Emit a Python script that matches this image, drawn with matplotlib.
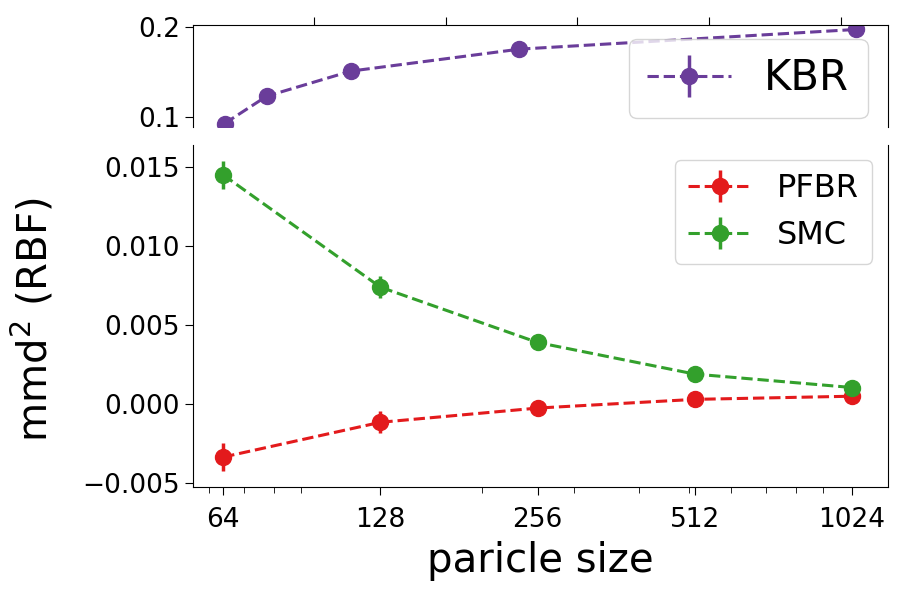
import matplotlib
matplotlib.use("Agg")
import matplotlib.pyplot as plt
from matplotlib.ticker import NullFormatter, ScalarFormatter

particles = [64, 128, 256, 512, 1024]

kbr_mean = [0.0925, 0.123, 0.151, 0.1755, 0.1975]
kbr_err = [0.002, 0.002, 0.0015, 0.0015, 0.0015]

pfbr_mean = [-0.00335, -0.00115, -0.00025, 0.0003, 0.0005]
pfbr_err = [0.0009, 0.0007, 0.0002, 0.00015, 0.0001]

smc_mean = [0.0145, 0.0074, 0.0039, 0.0019, 0.00105]
smc_err = [0.0009, 0.0007, 0.0002, 0.00015, 0.0001]

c_kbr = "#6a3d9a"
c_pfbr = "#e31a1c"
c_smc = "#33a02c"

style = dict(fmt="o--", markersize=11.5, linewidth=2.2, elinewidth=2.5)

fig = plt.figure(figsize=(9.12, 5.94), dpi=100)
ax_top = fig.add_axes([0.2116, 0.786, 0.762, 0.172])
ax = fig.add_axes([0.2116, 0.180, 0.762, 0.576])

# --- top panel: KBR, linear x ---
ax_top.errorbar(particles, kbr_mean, yerr=kbr_err, color=c_kbr, label="KBR", **style)
ax_top.set_xlim(16, 1072)
ax_top.set_ylim(0.0885, 0.2025)
ax_top.set_yticks([0.1, 0.2])
ax_top.set_xticks([200, 400, 600, 800, 1000])
ax_top.xaxis.tick_top()
ax_top.tick_params(axis="x", labeltop=False, length=6)
ax_top.tick_params(axis="y", labelsize=19, length=6)
ax_top.spines["bottom"].set_visible(False)
ax_top.legend(loc="lower right", fontsize=30, handlelength=2, borderpad=0.45,
              borderaxespad=0, bbox_to_anchor=(0.971, 0.088))

# --- bottom panel: PFBR and SMC, log x ---
ax.errorbar(particles, pfbr_mean, yerr=pfbr_err, color=c_pfbr, label="PFBR", **style)
ax.errorbar(particles, smc_mean, yerr=smc_err, color=c_smc, label="SMC", **style)
ax.set_xscale("log")
ax.set_xticks(particles)
ax.xaxis.set_major_formatter(ScalarFormatter())
ax.xaxis.set_minor_formatter(NullFormatter())
ax.set_xlim(56, 1200)
ax.set_ylim(-0.00525, 0.0164)
ax.set_yticks([-0.005, 0.0, 0.005, 0.010, 0.015])
ax.yaxis.set_major_formatter(plt.FuncFormatter(lambda v, p: f"{v:.3f}".replace("-", "\u2212")))
ax.spines["top"].set_visible(False)
ax.tick_params(axis="both", which="major", labelsize=19, length=6)
ax.tick_params(axis="x", which="major", pad=8)
ax.tick_params(axis="x", which="minor", length=4)
ax.set_xlabel("paricle size", fontsize=29, labelpad=6)
ax.set_ylabel("mmd$^2$ (RBF)", fontsize=29)
ax.yaxis.set_label_coords(-0.196, 0.49)
ax.legend(loc="upper right", fontsize=23, handlelength=2, borderpad=0.4,
          borderaxespad=0, bbox_to_anchor=(0.977, 0.956))

plt.savefig("out.png", dpi=100)
plt.close()
